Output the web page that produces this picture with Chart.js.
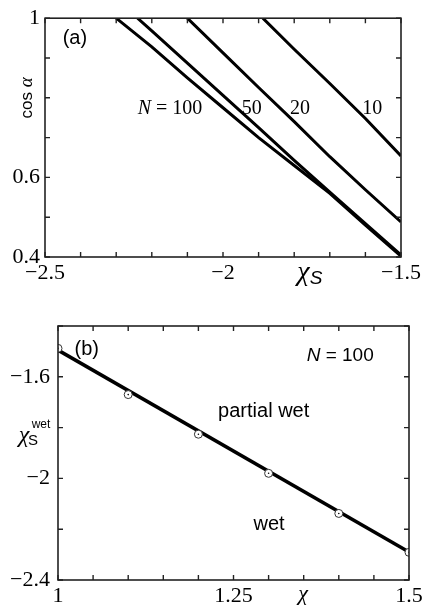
<!DOCTYPE html>
<html>
<head>
<meta charset="utf-8">
<script src="https://cdn.jsdelivr.net/npm/chart.js@4.4.0/dist/chart.umd.min.js"></script>
<style>
  html, body { margin: 0; padding: 0; background: #fff; }
  #wrap { position: relative; width: 427px; height: 606px; }
  canvas { position: absolute; left: 0; }
  #panelA { top: 0; }
  #panelB { top: 295px; }
</style>
</head>
<body>
<div id="wrap">
  <canvas id="panelA" width="427" height="295"></canvas>
  <canvas id="panelB" width="427" height="311"></canvas>
</div>
<script>
// (a) cos(alpha) against chi_s, one curve per chain length N
const chiS100 = [-2.30, -2.2, -2.1, -2.0, -1.9, -1.8, -1.7, -1.6, -1.5];
const cos100  = [1.0, 0.928, 0.850, 0.775, 0.700, 0.630, 0.560, 0.480, 0.402];
const chiS50  = [-2.24, -2.2, -2.1, -2.0, -1.9, -1.8, -1.7, -1.6, -1.5];
const cos50   = [1.0, 0.968, 0.887, 0.806, 0.725, 0.643, 0.563, 0.484, 0.405];
const chiS20  = [-2.10, -2.0, -1.9, -1.8, -1.7, -1.6, -1.5];
const cos20   = [1.0, 0.913, 0.826, 0.740, 0.652, 0.569, 0.488];
const chiS10  = [-1.888, -1.8, -1.7, -1.6, -1.5];
const cos10   = [1.0, 0.922, 0.836, 0.748, 0.654];
const xTicksA = [-2.5, -2, -1.5];
const yTicksA = [0.4, 0.6, 1];

// (b) wetting transition chi_s^wet against chi, N = 100
const chiB     = [1, 1.1, 1.2, 1.3, 1.4, 1.5];
const chiSWet  = [-1.488, -1.670, -1.826, -1.980, -2.138, -2.291];
const fitChi   = [1, 1.5];
const fitChiS  = [-1.495, -2.290];
const xTicksB  = [1, 1.25, 1.5];
const yTicksB  = [-1.6, -2, -2.4];

const SERIF = '"Liberation Serif", "Times New Roman", serif';
const SANS = '"Liberation Sans", Arial, sans-serif';

function pts(xs, ys) {
  return xs.map((x, i) => ({ x: x, y: ys[i] }));
}

function fmt(v) {
  return String(v).replace('-', '\u2212');
}

// draw a row of differently styled text pieces centred on (cx, cy)
function drawRuns(ctx, runs, cx, cy) {
  let w = 0;
  runs.forEach(r => { ctx.font = r.f; r.w = ctx.measureText(r.t).width; w += r.w; });
  let x = cx - w / 2;
  ctx.textAlign = 'left';
  ctx.textBaseline = 'middle';
  ctx.fillStyle = '#000';
  runs.forEach(r => { ctx.font = r.f; ctx.fillText(r.t, x, cy + (r.dy || 0)); x += r.w; });
}

// box around the plot, inward tick marks on every side, and the text notes
const framePlugin = {
  id: 'frame',
  afterDraw(chart, args, opts) {
    const ctx = chart.ctx;
    const a = chart.chartArea;
    const xs = chart.scales.x, ys = chart.scales.y;
    const len = 5;
    ctx.save();
    ctx.strokeStyle = '#222';
    ctx.lineWidth = 1.6;
    ctx.strokeRect(a.left, a.top, a.right - a.left, a.bottom - a.top);
    ctx.lineWidth = 1.4;
    ctx.beginPath();
    xs.ticks.forEach(t => {
      const p = xs.getPixelForValue(t.value);
      ctx.moveTo(p, a.bottom); ctx.lineTo(p, a.bottom - len);
      ctx.moveTo(p, a.top); ctx.lineTo(p, a.top + len);
    });
    ys.ticks.forEach(t => {
      const p = ys.getPixelForValue(t.value);
      ctx.moveTo(a.left, p); ctx.lineTo(a.left + len, p);
      ctx.moveTo(a.right, p); ctx.lineTo(a.right - len, p);
    });
    ctx.stroke();
    (opts.notes || []).forEach(n => {
      drawRuns(ctx, n.runs, xs.getPixelForValue(n.x), ys.getPixelForValue(n.y));
    });
    if (opts.extra) opts.extra(ctx, a, xs, ys);
    ctx.restore();
  }
};

function makeAxis(min, max, step, shown, size, pad, isY) {
  return {
    type: 'linear',
    min: min, max: max,
    grid: { display: false, drawTicks: false },
    border: { display: false },
    ticks: {
      stepSize: step,
      autoSkip: false,
      maxRotation: 0,
      padding: pad,
      color: '#000',
      font: { family: SERIF, size: 22 },
      callback: v => shown.some(s => Math.abs(s - v) < 1e-6) ? fmt(shown.find(s => Math.abs(s - v) < 1e-6)) : ''
    },
    afterFit: s => { if (isY) s.width = size; else s.height = size; }
  };
}

function lineSet(xs, ys) {
  return {
    data: pts(xs, ys),
    showLine: true,
    borderColor: '#000',
    borderWidth: 3,
    pointRadius: 0,
    fill: false
  };
}

new Chart(document.getElementById('panelA'), {
  type: 'scatter',
  data: {
    datasets: [
      lineSet(chiS100, cos100),
      lineSet(chiS50, cos50),
      lineSet(chiS20, cos20),
      lineSet(chiS10, cos10)
    ]
  },
  options: {
    responsive: false,
    animation: false,
    layout: { padding: { top: 18, right: 26, left: 0, bottom: 0 } },
    plugins: {
      legend: { display: false },
      tooltip: { enabled: false },
      frame: {
        notes: [
          { x: -2.416, y: 0.950, runs: [{ t: '(a)', f: '20px ' + SANS }] },
          { x: -2.149, y: 0.772, runs: [{ t: 'N', f: 'italic 20px ' + SERIF }, { t: ' = 100', f: '20px ' + SERIF }] },
          { x: -1.919, y: 0.772, runs: [{ t: '50', f: '20px ' + SERIF }] },
          { x: -1.784, y: 0.772, runs: [{ t: '20', f: '20px ' + SERIF }] },
          { x: -1.581, y: 0.772, runs: [{ t: '10', f: '20px ' + SERIF }] }
        ],
        extra: (ctx, a, xs, ys) => {
          drawRuns(ctx, [
            { t: '\u03c7', f: 'italic 28px ' + SERIF },
            { t: 'S', f: 'italic 19px ' + SANS, dy: 6 }
          ], xs.getPixelForValue(-1.756), a.bottom + 16);
          ctx.save();
          ctx.translate(27, ys.getPixelForValue(0.8));
          ctx.rotate(-Math.PI / 2);
          drawRuns(ctx, [
            { t: 'cos ', f: '17px ' + SANS },
            { t: '\u03b1', f: 'italic 19px ' + SERIF }
          ], 0, 0);
          ctx.restore();
        }
      }
    },
    scales: {
      x: makeAxis(-2.5, -1.5, 0.1, xTicksA, 38, 3, false),
      y: makeAxis(0.4, 1, 0.1, yTicksA, 45, 5, true)
    }
  },
  plugins: [framePlugin]
});

new Chart(document.getElementById('panelB'), {
  type: 'scatter',
  data: {
    datasets: [
      {
        data: pts(chiB, chiSWet),
        pointRadius: 0.8,
        pointBackgroundColor: '#000',
        pointBorderWidth: 0
      },
      {
        data: pts(chiB, chiSWet),
        pointRadius: 4,
        pointBackgroundColor: '#fff',
        pointBorderColor: '#333',
        pointBorderWidth: 1
      },
      Object.assign(lineSet(fitChi, fitChiS), { borderWidth: 3.5 })
    ]
  },
  options: {
    responsive: false,
    animation: false,
    layout: { padding: { top: 31, right: 18, left: 0, bottom: 0 } },
    plugins: {
      legend: { display: false },
      tooltip: { enabled: false },
      frame: {
        notes: [
          { x: 1.041, y: -1.491, runs: [{ t: '(b)', f: '20px ' + SANS }] },
          { x: 1.402, y: -1.518, runs: [{ t: 'N', f: 'italic 19px ' + SANS }, { t: ' = 100', f: '19px ' + SANS }] },
          { x: 1.293, y: -1.735, runs: [{ t: 'partial wet', f: '20px ' + SANS }] },
          { x: 1.3006, y: -2.183, runs: [{ t: 'wet', f: '20px ' + SANS }] }
        ],
        extra: (ctx, a, xs, ys) => {
          drawRuns(ctx, [{ t: '\u03c7', f: 'italic 22px ' + SERIF }], xs.getPixelForValue(1.349), a.bottom + 14);
          const cy = ys.getPixelForValue(-1.8) + 8;
          drawRuns(ctx, [{ t: '\u03c7', f: 'italic 24px ' + SERIF }], 24, cy);
          drawRuns(ctx, [{ t: 'S', f: '15px ' + SANS }], 33, cy + 5);
          drawRuns(ctx, [{ t: 'wet', f: '12px ' + SANS }], 41, cy - 11);
        }
      }
    },
    scales: {
      x: makeAxis(1, 1.5, 0.05, xTicksB, 26, 3, false),
      y: makeAxis(-2.4, -1.4, 0.2, yTicksB, 58, 8, true)
    }
  },
  plugins: [framePlugin]
});
</script>
</body>
</html>
